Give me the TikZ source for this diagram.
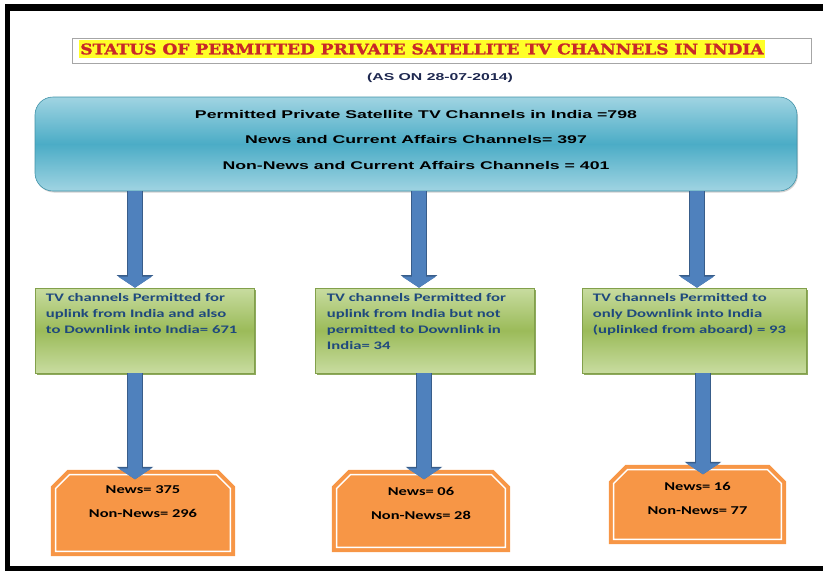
\documentclass[tikz,border=0pt]{standalone}
\usepackage{fontspec}
\usepackage{xcolor}
\usepackage{tikz}
\usetikzlibrary{arrows.meta,positioning,shadows}
\newfontfamily\bluefont[FakeStretch=1.58]{Liberation Sans}
\newfontfamily\greenfont[FakeStretch=1.45]{Carlito}
\newfontfamily\orangefont[FakeStretch=1.37]{Carlito}
\newfontfamily\titlefont[FakeStretch=1.16,BoldFeatures={FakeBold=1.5}]{DejaVu Serif}
\definecolor{arrowblue}{RGB}{79,129,189}
\definecolor{arrowedge}{RGB}{56,93,138}
\definecolor{tealmid}{RGB}{75,172,198}
\definecolor{teallight}{RGB}{160,212,226}
\definecolor{greenmid}{RGB}{155,187,89}
\definecolor{greenlight}{RGB}{200,220,160}
\definecolor{greenedge}{RGB}{130,160,75}
\definecolor{navytext}{RGB}{31,73,125}
\definecolor{orangefill}{RGB}{247,150,70}
\definecolor{titlered}{RGB}{200,40,40}
\definecolor{titleyellow}{RGB}{255,255,40}
\definecolor{datenavy}{RGB}{30,40,80}

\begin{document}
\begin{tikzpicture}[x=1pt,y=-1pt,inner sep=0pt,
    titlebox/.style={draw=gray!70,line width=0.8pt,minimum width=739pt,minimum height=25pt},
    titlefill/.style={fill=titleyellow,text=titlered,minimum width=686pt,minimum height=18pt,font=\titlefont\bfseries\fontsize{14.7}{16}\selectfont},
    datetext/.style={text=datenavy,font=\bluefont\bfseries\fontsize{10}{12}\selectfont},
    bluebox/.style={draw=tealmid!85!black,line width=0.6pt,rounded corners=18pt,minimum width=762pt,minimum height=94pt,
        top color=teallight,bottom color=teallight,middle color=tealmid,
        drop shadow={shadow xshift=1pt,shadow yshift=-1.5pt,fill=gray!60,opacity=0.6}},
    bluetext/.style={align=center,font=\bluefont\bfseries\fontsize{11.2}{25.5}\selectfont},
    greenbox/.style={draw=greenedge,line width=0.6pt,minimum height=85pt,
        top color=greenlight,bottom color=greenlight,middle color=greenmid,
        drop shadow={shadow xshift=1.5pt,shadow yshift=-1.5pt,fill=greenedge,opacity=0.9}},
    greentext/.style={align=left,text=navytext,font=\greenfont\bfseries\fontsize{11.5}{16}\selectfont},
    orangebox/.style={rectangle},
    orangeline/.style={fill=orangefill,draw=orangefill,line width=4pt,double=white,double distance=1.5pt},
    orangetext/.style={align=center,font=\orangefont\bfseries\fontsize{12}{24}\selectfont},
    flow/.style={line width=14pt,draw=arrowblue,-{Triangle[width=33pt,length=11pt]},
        preaction={draw=arrowedge,line width=16pt,-{Triangle[width=36pt,length=12.5pt]}}}]
\useasboundingbox (0,0) rectangle (823,571);
\fill (5,4) rectangle (823,11);
\fill (5,4) rectangle (10,571);
\fill (5,566) rectangle (823,571);
\node[titlebox] (title) at (441.5,50.5) {};
\node[titlefill] (titletext) at (422,49) {STATUS OF PERMITTED PRIVATE SATELLITE TV CHANNELS IN INDIA};
\node[datetext] (date) at (440,78) {(AS ON 28-07-2014)};
\node[bluebox] (top) at (416,144) {};
\node[bluetext] (toptext) at (416,139.5) {Permitted Private Satellite TV Channels in India =798\\
    News and Current Affairs Channels= 397\\Non-News and Current Affairs Channels = 401};
\node[greenbox,minimum width=219pt] (g1) at (144.5,330.5) {};
\node[greenbox,minimum width=219pt] (g2) at (424.5,330.5) {};
\node[greenbox,minimum width=224pt] (g3) at (694,330.5) {};
\node[greentext,below right=6pt and 11pt of g1.north west] (g1text) {TV channels Permitted for\\uplink from India and also\\to Downlink into India= 671};
\node[greentext,below right=6pt and 12pt of g2.north west] (g2text) {TV channels Permitted for\\uplink from India but not\\permitted to Downlink in\\India= 34};
\node[greentext,below right=6pt and 11pt of g3.north west] (g3text) {TV channels Permitted to\\only Downlink into India\\(uplinked from aboard) = 93};
\node[orangebox,minimum width=174.5pt,minimum height=76.5pt] (o1) at (143,513) {};
\node[orangebox,minimum width=168.5pt,minimum height=72.5pt] (o2) at (421,511) {};
\node[orangebox,minimum width=167.5pt,minimum height=69.5pt] (o3) at (697.5,504.5) {};
\foreach \o in {o1,o2,o3}
    \draw[orangeline] (\o.south west) -- ([yshift=-14pt]\o.north west) -- ([xshift=14pt]\o.north west)
        -- ([xshift=-14pt]\o.north east) -- ([yshift=-14pt]\o.north east) -- (\o.south east) -- cycle;
\node[orangetext] (o1text) at (143,502) {News= 375\\Non-News= 296};
\node[orangetext] (o2text) at (421,503) {News= 06\\Non-News= 28};
\node[orangetext] (o3text) at (697.5,498.5) {News= 16\\Non-News= 77};
\draw[flow] ([xshift=-9.5pt]g1.north |- top.south) -- ([xshift=-9.5pt]g1.north);
\draw[flow] ([xshift=-5.5pt]g2.north |- top.south) -- ([xshift=-5.5pt]g2.north);
\draw[flow] ([xshift=3pt]g3.north |- top.south) -- ([xshift=3pt]g3.north);
\draw[flow,shorten >=-4.75pt] ([xshift=-8pt]o1.north |- g1.south) -- ([xshift=-8pt]o1.north);
\draw[flow,shorten >=-4.75pt] ([xshift=3pt]o2.north |- g2.south) -- ([xshift=3pt]o2.north);
\draw[flow,shorten >=-4.75pt] ([xshift=5.5pt]o3.north |- g3.south) -- ([xshift=5.5pt]o3.north);
\end{tikzpicture}
\end{document}
